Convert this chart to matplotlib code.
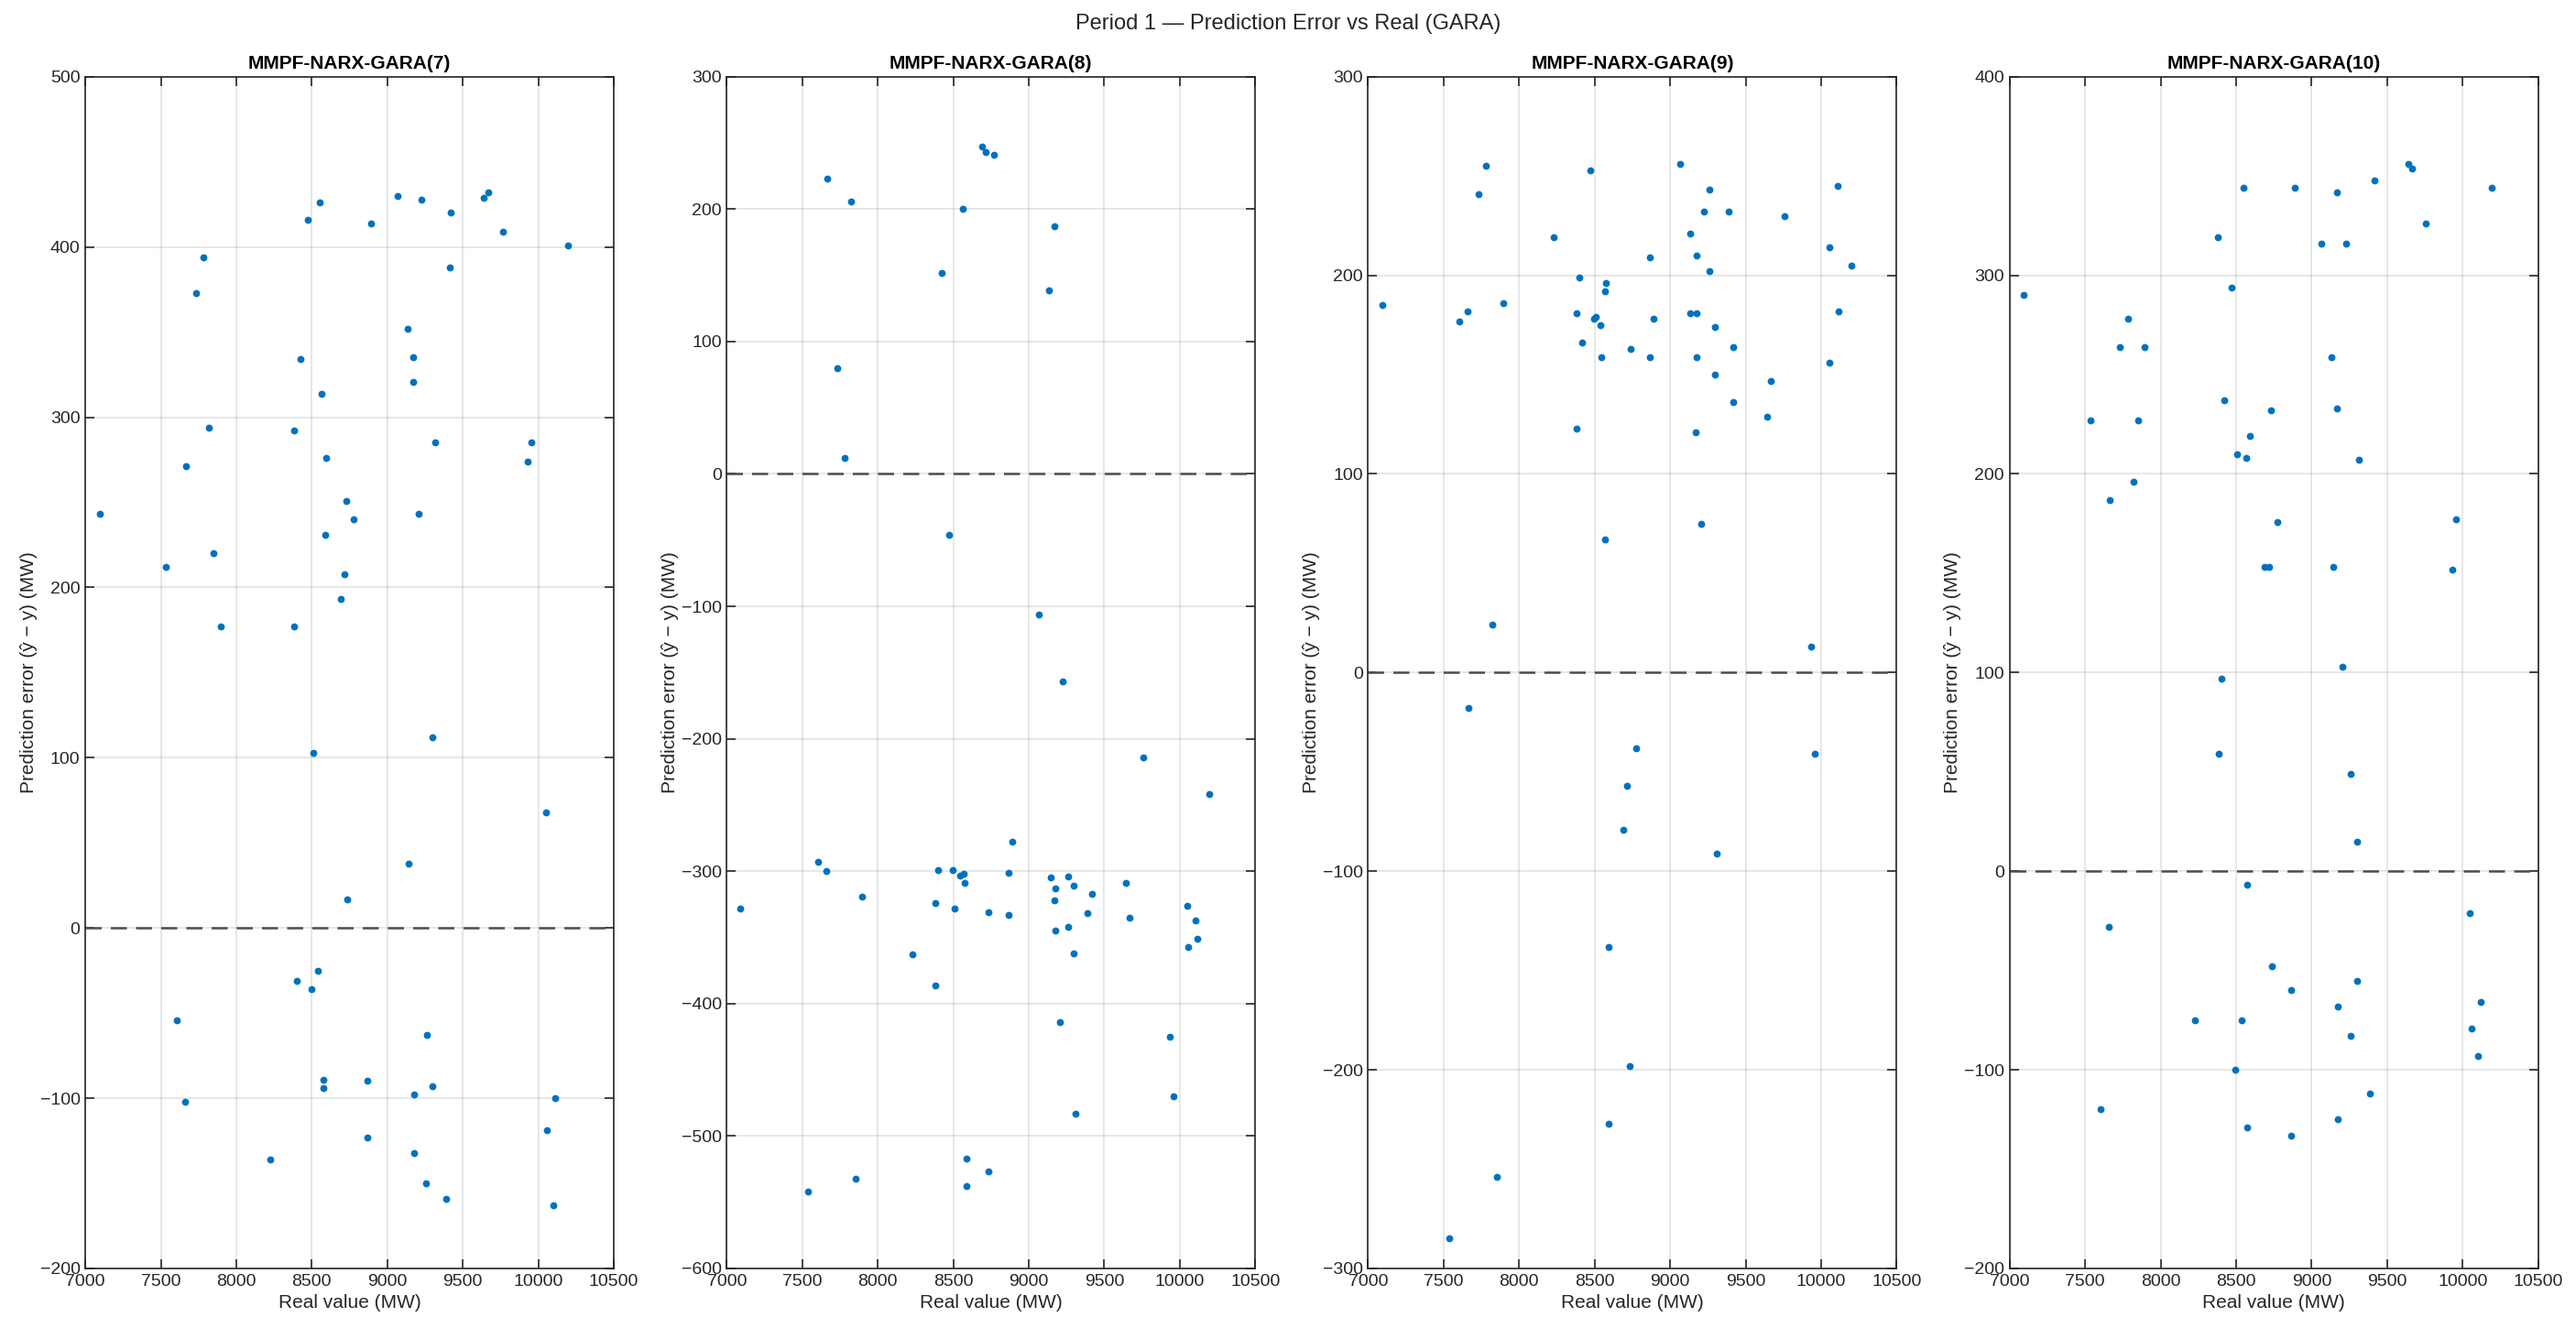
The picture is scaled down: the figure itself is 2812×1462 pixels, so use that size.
import numpy as np
import matplotlib
matplotlib.use("Agg")
import matplotlib.pyplot as plt

plt.rcParams['font.family'] = ['Liberation Sans', 'DejaVu Sans']

# --- data (real value MW, prediction error MW) ---
x7 = [8550, 8476, 9067, 9227, 9419, 9641, 9666, 8891, 9763, 10197, 7780, 7734, 9416,
      9132, 9170, 9170, 8422, 8566, 7821, 8384, 9316, 9956, 9931, 7666, 8593, 8731,
      8777, 9205, 7095, 8590, 7851, 7536, 8717, 8690, 7897, 8384,
      8509, 9300, 10053, 9140, 8736, 8539, 8403, 8495, 7607, 9259, 8574, 8574, 8867,
      9300, 9178, 10113, 7661, 8867, 10058, 8227, 9175, 9257, 9392, 10102]
e7 = [426, 416, 430, 428, 420, 429, 432, 414, 409, 401, 394, 373, 388,
      352, 335, 321, 334, 314, 294, 292, 285, 285, 274, 271, 276, 251,
      240, 243, 243, 231, 220, 212, 208, 193, 177, 177,
      103, 112, 68, 38, 17, -25, -31, -36, -54, -63, -89, -94, -90,
      -93, -98, -100, -102, -123, -119, -136, -132, -150, -159, -163]

x8 = [7666, 7826, 8688, 8712, 8772, 8566, 9167, 8422, 9135, 7734, 7783, 8471, 9067, 9227,
      9758, 10197, 8891, 7092, 7604, 7661, 7897, 8401, 8495, 8544, 8571, 8577, 8866,
      8382, 8506, 8736, 8866, 8230, 8382, 9143, 9175, 9170, 9259, 9300, 9416, 9387,
      9259, 9175, 9297, 9641, 9668, 10050, 10105, 10118, 10056, 9208, 9934, 9956,
      9311, 8590, 8731, 8587, 7853, 7536]
e8 = [223, 206, 247, 243, 241, 200, 187, 152, 139, 80, 12, -46, -106, -157,
      -214, -242, -278, -328, -293, -300, -319, -299, -299, -303, -302, -309, -301,
      -324, -328, -331, -333, -363, -386, -305, -313, -322, -304, -311, -317, -332,
      -342, -345, -362, -309, -335, -326, -337, -351, -357, -414, -425, -470,
      -483, -517, -527, -538, -532, -542]

x9 = [7780, 7731, 8471, 9067, 9257, 9224, 9387, 9758, 10107, 8227, 9135, 8866, 9173,
      9257, 10056, 10197, 8401, 8574, 8571, 7092, 7604, 7661, 7897, 8382, 8495, 8506,
      8536, 8888, 9135, 9173, 9297, 10118, 8419, 8736, 8544, 8866, 9175, 9416, 10053,
      9297, 9668, 9419, 9641, 8382, 9167, 9208, 8566, 7821, 9934,
      7666, 8772, 9956, 8715, 8688, 9311, 8590, 8731, 8590, 7853, 7536]
e9 = [255, 241, 253, 256, 243, 232, 232, 230, 245, 219, 221, 209, 210,
      202, 214, 205, 199, 196, 192, 185, 177, 182, 186, 181, 178, 179,
      175, 178, 181, 181, 174, 182, 166, 163, 159, 159, 159, 164, 156,
      150, 147, 136, 129, 123, 121, 75, 67, 24, 13,
      -18, -38, -41, -57, -79, -91, -138, -198, -227, -254, -285]

x10 = [9639, 9667, 8547, 8891, 9167, 9419, 10195, 9759, 8382, 9067, 9226, 8469, 7095,
       7782, 7732, 7894, 9134, 8419, 9167, 8729, 7533, 7852, 8589, 8508, 8567, 9313,
       7821, 7665, 8774, 9958, 8687, 8718, 9145, 9933, 8402, 9206,
       8383, 9257, 9299, 8575, 7659, 10050, 8734, 8866, 9299, 9173, 10117, 8226, 8536,
       9257, 10058, 10100, 8494, 9388, 7603, 9173, 8575, 8866]
e10 = [356, 354, 344, 344, 342, 348, 344, 326, 319, 316, 316, 294, 290,
       278, 264, 264, 259, 237, 233, 232, 227, 227, 219, 210, 208, 207,
       196, 187, 176, 177, 153, 153, 153, 152, 97, 103,
       59, 49, 15, -7, -28, -21, -48, -60, -55, -68, -66, -75, -75,
       -83, -79, -93, -100, -112, -120, -125, -129, -133]

titles = ["MMPF-NARX-GARA(7)", "MMPF-NARX-GARA(8)", "MMPF-NARX-GARA(9)", "MMPF-NARX-GARA(10)"]
xs = [x7, x8, x9, x10]
es = [e7, e8, e9, e10]
ylims = [(-200, 500), (-600, 300), (-300, 300), (-200, 400)]

blue = (0.0, 0.447, 0.741)
dark = (0.15, 0.15, 0.15)

fig = plt.figure(figsize=(14.06, 7.31), dpi=200)
fig.text(0.5, 0.982, "Period 1 \u2014 Prediction Error vs Real (GARA)",
         ha="center", va="center", fontsize=8.5, color=dark)

for k in range(4):
    ax = fig.add_axes([0.0331 + k * 0.249, 0.0527, 0.2052, 0.890])
    ax.plot(xs[k], es[k], 'o', ms=2.8, color=blue, mec='none', zorder=3)
    ax.axhline(0, color=(0.3, 0.3, 0.3), ls=(0, (7, 4)), lw=0.9, zorder=2)
    ax.set_xlim(7000, 10500)
    ax.set_ylim(*ylims[k])
    ax.set_xticks(np.arange(7000, 10501, 500))
    ax.set_yticks(np.arange(ylims[k][0], ylims[k][1] + 1, 100))
    ax.grid(True, color=dark, alpha=0.13, lw=0.6)
    ax.set_axisbelow(True)
    ax.tick_params(direction='in', top=True, right=True, length=3.5, width=0.6,
                   labelsize=7, colors=dark, pad=2)
    for sp in ax.spines.values():
        sp.set_color(dark)
        sp.set_linewidth(0.6)
    ax.set_title(titles[k], fontsize=7.5, fontweight='bold', color='black', pad=3)
    ax.set_xlabel("Real value (MW)", fontsize=7.5, color=dark, labelpad=2)
    ax.set_ylabel("Prediction error (\u0177 \u2212 y) (MW)", fontsize=7.5, color=dark, labelpad=1)

fig.savefig("out.png", dpi=200)
